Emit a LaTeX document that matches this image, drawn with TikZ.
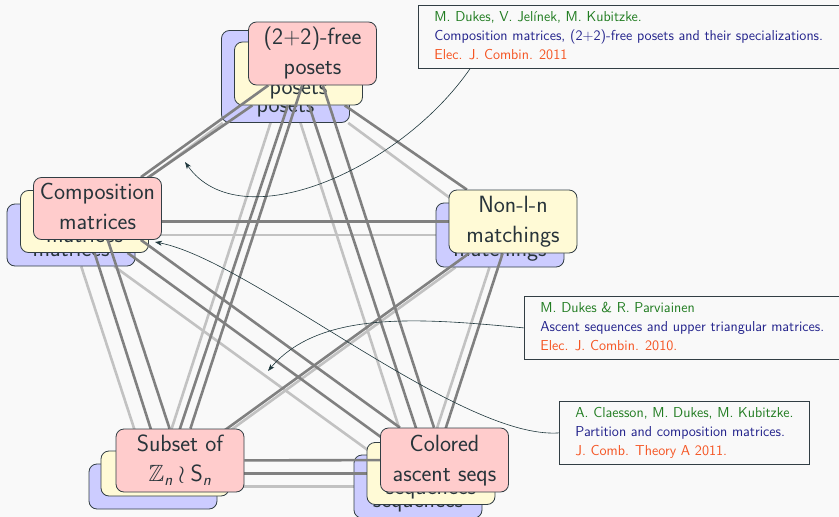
\documentclass[tikz,border=0pt]{standalone}
\usepackage{fontspec}
\usepackage{amsmath,amssymb}
\usetikzlibrary{arrows.meta}

\definecolor{bgc}{RGB}{249,249,249}
\definecolor{ink}{RGB}{40,52,58}
\definecolor{frame}{RGB}{50,62,68}
\definecolor{blueL}{RGB}{204,204,255}
\definecolor{yellowL}{RGB}{255,250,214}
\definecolor{pinkL}{RGB}{255,204,204}
\definecolor{edgeD}{RGB}{128,128,128}
\definecolor{edgeL}{RGB}{194,194,194}
\definecolor{citeA}{RGB}{34,125,34}
\definecolor{citeT}{RGB}{35,35,140}
\definecolor{citeJ}{RGB}{245,85,35}
\definecolor{pointer}{RGB}{30,55,60}

\newcommand{\sansit}[1]{\textsf{\itshape #1}}

% drawing order: each layer's links sit under that layer's cards
\pgfdeclarelayer{paper}
\pgfdeclarelayer{blinks}
\pgfdeclarelayer{bcards}
\pgfdeclarelayer{ylinks}
\pgfdeclarelayer{ycards}
\pgfdeclarelayer{plinks}
\pgfdeclarelayer{pcards}
\pgfsetlayers{paper,blinks,bcards,ylinks,ycards,plinks,pcards,main}

\tikzset{
  card/.style={draw=frame, line width=0.8pt, rounded corners=8pt, text=ink,
    align=center, minimum width=128pt, inner sep=1pt,
    font=\fontsize{23.5}{30}\selectfont\sffamily},
  bluecard/.style={card, fill=blueL},
  yellowcard/.style={card, fill=yellowL},
  pinkcard/.style={card, fill=pinkL},
  lightlink/.style={draw=edgeL, line width=2.6pt},
  darklink/.style={draw=edgeD, line width=2.6pt},
  cite/.style={draw=frame, line width=0.8pt, align=left, anchor=north west,
    inner xsep=16pt, inner ysep=3pt, font=\fontsize{14.4}{19}\selectfont\sffamily},
  pointerarrow/.style={draw=pointer, line width=0.6pt,
    -{Stealth[length=7pt,width=5pt,inset=2pt]}}
}

\begin{document}
\begin{tikzpicture}[x=1pt,y=-1pt]
\useasboundingbox (0,0) rectangle (839,517);
\begin{pgfonlayer}{paper}
  \fill[bgc] (0,0) rectangle (839,517);
\end{pgfonlayer}

% back layer
\begin{pgfonlayer}{bcards}
  \node[bluecard, minimum height=87pt] (b1) at (285.5,76.5) {\strut\\\strut\\\strut posets};
  \node[bluecard, minimum height=60pt] (b2) at (71,235) {\strut\\\strut matrices};
  \node[bluecard, minimum height=64pt] (b3) at (500,235) {\strut\\\strut matchings};
  \node[bluecard, minimum height=45pt] (b4) at (153,486.5) {\strut};
  \node[bluecard, minimum height=63pt] (b5) at (418,486.5) {\strut\\\strut sequences};
\end{pgfonlayer}
\begin{pgfonlayer}{blinks}
  \foreach \a/\b in {b1/b2,b1/b3,b1/b4,b1/b5,b2/b3,b2/b4,b2/b5,b3/b4,b3/b5,b4/b5}
    \draw[lightlink] (\a) -- (\b);
\end{pgfonlayer}

% middle layer
\begin{pgfonlayer}{ycards}
  \node[yellowcard, minimum height=63pt] (y1) at (298.5,73.5) {\strut\\\strut posets};
  \node[yellowcard, minimum height=59pt] (y2) at (84.5,221.5) {\strut\\\strut matrices};
  \node[yellowcard, minimum height=63pt] (y3) at (513,221.5) {\strut Non-l-n\\\strut matchings};
  \node[yellowcard, minimum height=45pt] (y4) at (165,473.5) {\strut};
  \node[yellowcard, minimum height=61pt] (y5) at (431,473.5) {\strut\\\strut sequences};
\end{pgfonlayer}
\begin{pgfonlayer}{ylinks}
  \foreach \a/\b in {y1/y2,y1/y3,y1/y4,y1/y5,y2/y3,y2/y4,y2/y5,y3/y4,y3/y5,y4/y5}
    \draw[darklink] (\a) -- (\b);
\end{pgfonlayer}

% front layer
\begin{pgfonlayer}{pcards}
  \node[pinkcard, minimum height=63pt] (p1) at (312.5,53.5) {\strut(2+2)-free\\\strut posets};
  \node[pinkcard, minimum height=59pt] (p2) at (97.5,208.5) {\strut Composition\\\strut matrices};
  \node[pinkcard, minimum height=63pt] (p4) at (180,460.5)
    {\strut Subset of\\\strut$\mathbb{Z}_{\sansit{n}} \wr \textsf{S}_{\sansit{n}}$};
  \node[pinkcard, minimum height=64pt] (p5) at (444.5,460) {\strut Colored\\\strut ascent seqs};
\end{pgfonlayer}
\begin{pgfonlayer}{plinks}
  \foreach \a/\b in {p1/p2,p1/p4,p1/p5,p2/p4,p2/p5,p4/p5}
    \draw[darklink] (\a) -- (\b);
\end{pgfonlayer}

% references
\node[cite] (c1) at (418,5)
  {\strut\textcolor{citeA}{M. Dukes, V. Jelínek, M. Kubitzke.}\\
   \strut\textcolor{citeT}{Composition matrices, (2+2)-free posets and their specializations.}\\
   \strut\textcolor{citeJ}{Elec. J. Combin. 2011}};
\node[cite] (c2) at (524,296)
  {\strut\textcolor{citeA}{M. Dukes \& R. Parviainen}\\
   \strut\textcolor{citeT}{Ascent sequences and upper triangular matrices.}\\
   \strut\textcolor{citeJ}{Elec. J. Combin. 2010.}};
\node[cite] (c3) at (559,401)
  {\strut\textcolor{citeA}{A. Claesson, M. Dukes, M. Kubitzke.}\\
   \strut\textcolor{citeT}{Partition and composition matrices.}\\
   \strut\textcolor{citeJ}{J. Comb. Theory A 2011.}};

\coordinate (t1) at (185,162);
\coordinate (t2) at (268,371);
\coordinate (t3) at (155,242);

\draw[pointerarrow] ([xshift=52pt]c1.south west) .. controls (400,170) and (240,240) .. (t1);
\draw[pointerarrow] (c2.west) .. controls (420,318) and (320,310) .. (t2);
\draw[pointerarrow] (c3.west) .. controls (460,440) and (250,260) .. (t3);
\end{tikzpicture}
\end{document}
